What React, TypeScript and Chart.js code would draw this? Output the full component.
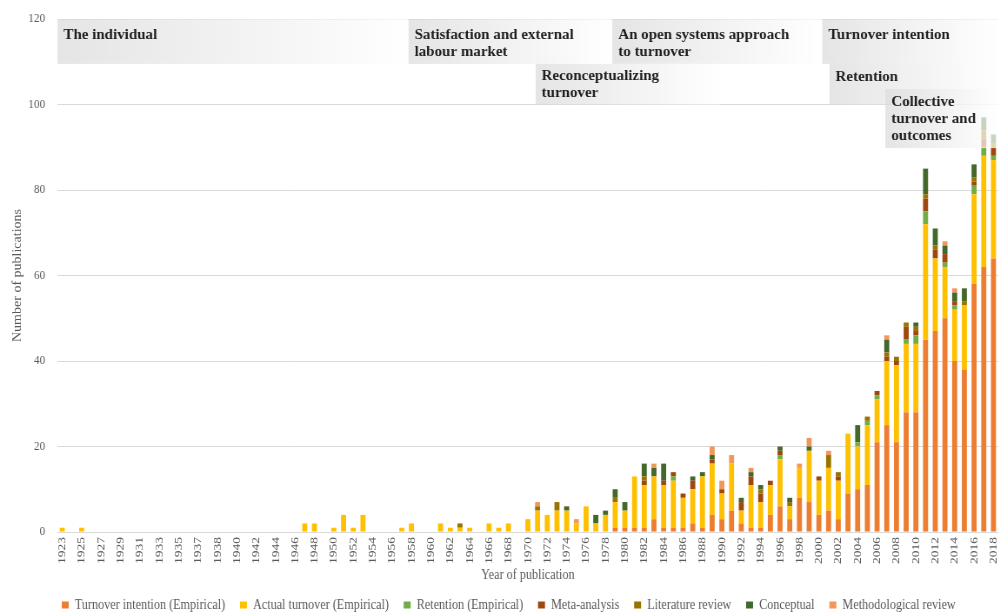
import React, { useEffect, useRef } from "react";
import { Chart, registerables } from "chart.js";

Chart.register(...registerables);

// horizontal squeeze of the whole chart (the reference is horizontally compressed)
const SQUEEZE = 0.8696;
const CANVAS_W = 1150;
const CANVAS_H = 612;

const years = [
  "1923", "1924", "1925", "1926", "1927", "1928", "1929", "1930", "1931", "1932",
  "1933", "1934", "1935", "1936", "1937", "1938",
  "1938", "1939", "1940", "1941", "1942", "1943", "1944", "1945", "1946", "1947",
  "1948", "1949", "1950", "1951", "1952", "1953", "1954", "1955", "1956", "1957",
  "1958", "1959", "1960", "1961", "1962", "1963", "1964", "1965", "1966", "1967",
  "1968", "1969",
  "1970", "1971", "1972", "1973", "1974", "1975", "1976", "1977", "1978", "1979",
  "1980", "1981", "1982", "1983", "1984", "1985", "1986", "1987", "1988", "1989",
  "1990", "1991", "1992", "1993", "1994", "1995", "1996", "1997", "1998", "1999",
  "2000", "2001", "2002", "2003", "2004", "2005", "2006", "2007", "2008", "2009",
  "2010", "2011", "2012", "2013", "2014", "2015", "2016", "2017", "2018",
];

const turnoverIntention = [
  0, 0, 0, 0, 0, 0, 0, 0, 0, 0, 0, 0, 0, 0, 0, 0,
  0, 0, 0, 0, 0, 0, 0, 0, 0, 0, 0, 0, 0, 0, 0, 0, 0, 0, 0, 0, 0, 0, 0, 0, 0, 0, 0, 0, 0, 0, 0, 0,
  0, 0, 0, 0, 0, 0, 0, 0, 0, 1,
  1, 1, 1, 3, 1, 1, 1, 2, 1, 4,
  3, 5, 2, 1, 1, 4, 6, 3, 8, 7,
  4, 5, 3, 9, 10, 11, 21, 25, 21, 28,
  28, 45, 47, 50, 40, 38, 58, 62, 64,
];

const actualTurnover = [
  1, 0, 1, 0, 0, 0, 0, 0, 0, 0, 0, 0, 0, 0, 0, 0,
  0, 0, 0, 0, 0, 0, 0, 0, 0, 2, 2, 0, 1, 4, 1, 4, 0, 0, 0, 1, 2, 0, 0, 2, 1, 1, 1, 0, 2, 1, 2, 0,
  3, 5, 4, 5, 5, 2, 6, 2, 4, 6,
  4, 12, 10, 10, 10, 11, 7, 8, 12, 12,
  6, 11, 3, 10, 6, 7, 11, 3, 7, 12,
  8, 10, 9, 14, 10, 14, 10, 15, 18, 16,
  16, 27, 17, 12, 12, 15, 21, 26, 23,
];

const retention = [
  0, 0, 0, 0, 0, 0, 0, 0, 0, 0, 0, 0, 0, 0, 0, 0,
  0, 0, 0, 0, 0, 0, 0, 0, 0, 0, 0, 0, 0, 0, 0, 0, 0, 0, 0, 0, 0, 0, 0, 0, 0, 0, 0, 0, 0, 0, 0, 0,
  0, 0, 0, 0, 0, 0, 0, 0, 0, 0,
  0, 0, 0, 0, 0, 1, 0, 0, 0, 0,
  0, 0, 0, 0, 0, 0, 1, 0, 0, 0,
  0, 0, 0, 0, 1, 1, 1, 0, 0, 1,
  2, 3, 0, 1, 1, 0, 2, 2, 1,
];

const metaAnalysis = [
  0, 0, 0, 0, 0, 0, 0, 0, 0, 0, 0, 0, 0, 0, 0, 0,
  0, 0, 0, 0, 0, 0, 0, 0, 0, 0, 0, 0, 0, 0, 0, 0, 0, 0, 0, 0, 0, 0, 0, 0, 0, 0, 0, 0, 0, 0, 0, 0,
  0, 0, 0, 0, 0, 0, 0, 0, 0, 0,
  0, 0, 1, 0, 1, 1, 1, 2, 0, 1,
  1, 0, 2, 2, 2, 1, 1, 0, 0, 0,
  1, 0, 1, 0, 0, 0, 1, 1, 1, 3,
  1, 3, 2, 2, 1, 0, 1, 2, 2,
];

const literatureReview = [
  0, 0, 0, 0, 0, 0, 0, 0, 0, 0, 0, 0, 0, 0, 0, 0,
  0, 0, 0, 0, 0, 0, 0, 0, 0, 0, 0, 0, 0, 0, 0, 0, 0, 0, 0, 0, 0, 0, 0, 0, 0, 1, 0, 0, 0, 0, 0, 0,
  0, 1, 0, 2, 0, 0, 0, 0, 0, 1,
  0, 0, 1, 0, 0, 0, 0, 0, 0, 0,
  0, 0, 0, 0, 1, 0, 0, 1, 0, 0,
  0, 3, 1, 0, 0, 1, 0, 1, 1, 1,
  1, 1, 1, 0, 0, 1, 1, 2, 1,
];

const conceptual = [
  0, 0, 0, 0, 0, 0, 0, 0, 0, 0, 0, 0, 0, 0, 0, 0,
  0, 0, 0, 0, 0, 0, 0, 0, 0, 0, 0, 0, 0, 0, 0, 0, 0, 0, 0, 0, 0, 0, 0, 0, 0, 0, 0, 0, 0, 0, 0, 0,
  0, 0, 0, 0, 1, 0, 0, 2, 1, 2,
  2, 0, 3, 2, 4, 0, 0, 1, 1, 1,
  0, 0, 1, 1, 1, 0, 1, 1, 0, 1,
  0, 0, 0, 0, 4, 0, 0, 3, 0, 0,
  1, 6, 4, 2, 2, 3, 3, 3, 2,
];

const methodologicalReview = [
  0, 0, 0, 0, 0, 0, 0, 0, 0, 0, 0, 0, 0, 0, 0, 0,
  0, 0, 0, 0, 0, 0, 0, 0, 0, 0, 0, 0, 0, 0, 0, 0, 0, 0, 0, 0, 0, 0, 0, 0, 0, 0, 0, 0, 0, 0, 0, 0,
  0, 1, 0, 0, 0, 1, 0, 0, 0, 0,
  0, 0, 0, 1, 0, 0, 0, 0, 0, 2,
  2, 2, 0, 1, 0, 0, 0, 0, 1, 2,
  0, 1, 0, 0, 0, 0, 0, 1, 0, 0,
  0, 0, 0, 1, 1, 0, 0, 0, 0,
];

const seriesNames = [
  "Turnover intention (Empirical)",
  "Actual turnover (Empirical)",
  "Retention (Empirical)",
  "Meta-analysis",
  "Literature review",
  "Conceptual",
  "Methodological review",
];
const seriesColors = ["#ED7D31", "#FFC000", "#70AD47", "#9E480E", "#997300", "#43682B", "#F1975A"];

const yTicks = [0, 20, 40, 60, 80, 100, 120];

const eraTitles: string[][] = [
  ["The individual"],
  ["Satisfaction and external", "labour market"],
  ["An open systems approach", "to turnover"],
  ["Turnover intention"],
  ["Reconceptualizing", "turnover"],
  ["Retention"],
  ["Collective", "turnover and", "outcomes"],
];
// spans in category-index units (x) and value units (y)
const eraPlacement = [
  { from: -0.5, to: 35.7, top: 120, bottom: 109.5, dy: 16 },
  { from: 35.7, to: 56.7, top: 120, bottom: 109.5, dy: 16 },
  { from: 56.7, to: 78.35, top: 120, bottom: 109.5, dy: 16 },
  { from: 78.35, to: 96.5, top: 120, bottom: 109.5, dy: 16 },
  { from: 48.8, to: 67.8, top: 109.5, bottom: 100, dy: 12 },
  { from: 79.1, to: 96.5, top: 109.5, bottom: 100, dy: 13 },
  { from: 84.85, to: 96.5, top: 103.6, bottom: 89.8, dy: 13 },
];

const SERIF = '"Liberation Serif", "Times New Roman", serif';
const GREY = "#595959";

const erasPlugin = {
  id: "eras",
  afterDatasetsDraw(chart: any) {
    const { ctx } = chart;
    const x = chart.scales.x;
    const y = chart.scales.y;
    const c0 = x.getPixelForValue(0);
    const cw = x.getPixelForValue(1) - c0;
    eraPlacement.forEach((p, i) => {
      const left = c0 + p.from * cw;
      const right = c0 + p.to * cw;
      const top = y.getPixelForValue(p.top);
      const bottom = y.getPixelForValue(p.bottom);
      ctx.save();
      const g = ctx.createLinearGradient(left, 0, right, 0);
      g.addColorStop(0, "rgba(219,219,219,0.72)");
      g.addColorStop(1, "rgba(255,255,255,0.72)");
      ctx.fillStyle = g;
      ctx.fillRect(left, top, right - left, bottom - top);
      ctx.fillStyle = "#1f1f1f";
      ctx.font = `bold 15px ${SERIF}`;
      ctx.textBaseline = "middle";
      ctx.textAlign = "left";
      eraTitles[i].forEach((line, k) => {
        ctx.save();
        ctx.translate(left + 6 / SQUEEZE, top + p.dy + k * 17);
        ctx.scale(1 / SQUEEZE, 1);
        ctx.fillText(line, 0, 0);
        ctx.restore();
      });
      ctx.restore();
    });
  },
};

const legendShiftPlugin = {
  id: "legendShift",
  afterLayout(chart: any) {
    const lg = chart.legend;
    if (lg) {
      const d = 11;
      lg.left += d;
      lg.right += d;
    }
  },
};

export default function App() {
  const ref = useRef<HTMLCanvasElement>(null);
  useEffect(() => {
    document.body.style.margin = "0";
    Chart.defaults.font.family = SERIF;
    const chart = new Chart(ref.current as HTMLCanvasElement, {
      type: "bar",
      data: {
        labels: years,
        datasets: [
          turnoverIntention,
          actualTurnover,
          retention,
          metaAnalysis,
          literatureReview,
          conceptual,
          methodologicalReview,
        ].map((d, i) => ({
          label: seriesNames[i],
          data: d,
          backgroundColor: seriesColors[i],
          borderWidth: 0,
          categoryPercentage: 1,
          barPercentage: 0.52,
        })),
      },
      options: {
        animation: false,
        responsive: true,
        maintainAspectRatio: false,
        layout: { padding: { top: 19, right: 2, left: 0, bottom: -10 } },
        plugins: {
          tooltip: { enabled: false },
          legend: {
            position: "bottom",
            labels: {
              boxWidth: 8,
              boxHeight: 7,
              padding: 17,
              color: GREY,
              font: { size: 14, family: SERIF },
            },
          },
        },
        scales: {
          x: {
            stacked: true,
            grid: { display: false },
            border: { display: false },
            ticks: {
              autoSkip: false,
              minRotation: 90,
              maxRotation: 90,
              padding: -3,
              color: GREY,
              font: { size: 13.5, family: SERIF },
              callback: (_v: any, i: number) => (i % 2 === 0 ? years[i] : ""),
            },
            title: {
              display: true,
              text: "Year of publication",
              color: GREY,
              font: { size: 14, family: SERIF },
              padding: { top: 0, bottom: -3 },
            },
            afterFit: (s: any) => {
              s.height = 49;
              s.paddingLeft = 0;
              s.paddingRight = 0;
            },
          },
          y: {
            stacked: true,
            min: 0,
            max: 120,
            grid: { color: "#d9d9d9", drawTicks: false, lineWidth: 1 },
            border: { display: false },
            afterBuildTicks: (s: any) => {
              s.ticks = yTicks.map((v) => ({ value: v }));
            },
            ticks: {
              padding: 14,
              color: GREY,
              font: { size: 13, family: SERIF },
            },
            title: {
              display: true,
              text: "Number of publications",
              color: GREY,
              font: { size: 14, family: SERIF },
              padding: { top: 12, bottom: 0 },
            },
            afterFit: (s: any) => {
              s.width = 66;
              s.paddingTop = 0;
              s.paddingBottom = 0;
            },
          },
        },
      },
      plugins: [erasPlugin, legendShiftPlugin],
    });
    return () => chart.destroy();
  }, []);
  return (
    <div
      style={{
        position: "absolute",
        left: 0,
        top: 0,
        width: 1000,
        height: 612,
        overflow: "hidden",
        background: "#ffffff",
      }}
    >
      <div
        style={{
          position: "relative",
          width: CANVAS_W,
          height: CANVAS_H,
          transform: `scaleX(${SQUEEZE})`,
          transformOrigin: "0 0",
        }}
      >
        <canvas ref={ref} />
      </div>
    </div>
  );
}
